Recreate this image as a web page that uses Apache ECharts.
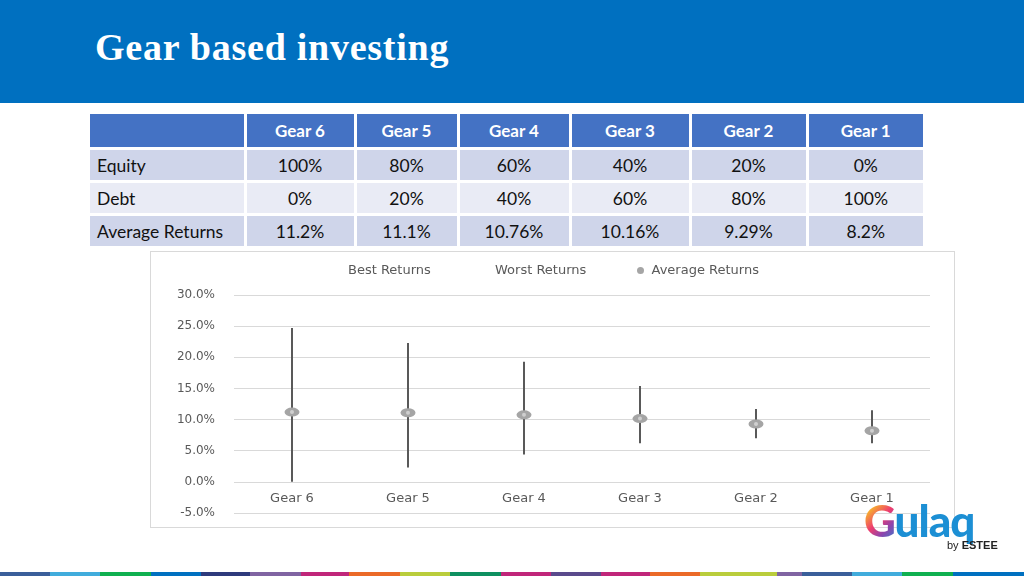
<!DOCTYPE html>
<html>
<head>
<meta charset="utf-8">
<script src="https://cdn.jsdelivr.net/npm/echarts@6/dist/echarts.min.js"></script>
<style>
  html, body { margin:0; padding:0; width:1024px; height:576px; overflow:hidden; background:#fff; position:relative; font-family: Lato, "Noto Sans", sans-serif; }
  #header { position:absolute; left:0; top:0; width:1024px; height:103px; background:#0070C0; }
  #title { position:absolute; left:95px; top:28px; line-height:38px; color:#fff; font-family:"Liberation Serif", "DejaVu Serif", serif; font-weight:bold; font-size:38px; letter-spacing:0.75px; white-space:nowrap; }
  #tbl { position:absolute; left:90px; top:114px; border-collapse:collapse; table-layout:fixed; width:833px; font-family:Lato, "Noto Sans", sans-serif; font-size:17.5px; color:#111; }
  #tbl td { padding:0; height:30px; border:3px solid #fff; text-align:center; overflow:hidden; white-space:nowrap; }
  #tbl tr.hdr td { background:#4472C4; color:#fff; font-weight:bold; height:33px; border-top:none; font-size:17px; }
  #tbl tr.odd td { background:#CFD5EA; }
  #tbl tr.even td { background:#E9EBF5; }
  #tbl td.lbl { text-align:left; padding-left:7px; }
  #tbl td:first-child { border-left:none; }
  #tbl td:last-child { border-right:none; }
  #chartbox { position:absolute; left:150px; top:251px; width:803px; height:275px; border:1px solid #d9d9d9; background:#fff; }
  #chart { width:803px; height:275px; }
  #logo { position:absolute; left:864px; top:498px; width:140px; height:60px; }
  #logo .g { font-family: Lato, Roboto, sans-serif; font-weight:900; font-size:44px; line-height:44px; color:#1C8FD4; letter-spacing:-1px; }
  #logo .G { background: linear-gradient(135deg, #8BC53F 0%, #F7B32B 25%, #EE3D6F 50%, #8E44AD 70%, #1C8FD4 100%); -webkit-background-clip:text; background-clip:text; color:transparent; }
  #logo .by { position:absolute; left:83px; top:41px; font-family: "Liberation Sans", sans-serif; font-size:11px; color:#222; white-space:nowrap; }
  #stripe { position:absolute; left:0; top:572px; width:1024px; height:4px; display:flex; }
  #stripe div { height:4px; }
</style>
</head>
<body>
<div id="header"><div id="title">Gear based investing</div></div>
<table id="tbl"><colgroup id="cols"></colgroup><tbody id="tbody"></tbody></table>
<div id="chartbox"><div id="chart"></div></div>
<div id="logo"><span class="g"><span class="G">G</span>ulaq</span><div class="by">by <b>ESTEE</b></div></div>
<div id="stripe"></div>
<script>
// ---- data ----
const categories = ['Gear 6', 'Gear 5', 'Gear 4', 'Gear 3', 'Gear 2', 'Gear 1'];
const equityAlloc = ['100%', '80%', '60%', '40%', '20%', '0%'];
const debtAlloc = ['0%', '20%', '40%', '60%', '80%', '100%'];
const avgReturnsText = ['11.2%', '11.1%', '10.76%', '10.16%', '9.29%', '8.2%'];
const bestReturns = [24.7, 22.3, 19.3, 15.4, 11.7, 11.5];
const worstReturns = [0.0, 2.3, 4.4, 6.2, 7.0, 6.2];
const averageReturns = [11.2, 11.1, 10.76, 10.16, 9.29, 8.2];
const rowLabels = ['Equity', 'Debt', 'Average Returns'];
const yTicks = [-5, 0, 5, 10, 15, 20, 25, 30];
const stripeColors = ['#3A5F9A','#41ACDC','#10B050','#0070C0','#2E3A7C','#8064A2','#C0267A','#EB6A28','#BACD3C','#0E9060','#C0267A','#5A4A8C','#C0267A','#EB6A28','#BACD3C','#8064A2','#3A5F9A','#41ACDC','#10B050','#0070C0'];
const stripeWidths = [50,50,51,50,49,51,48,51,50,51,50,50,49,50,77,25,50,50,51,71];

// ---- table ----
const colWidths = [155, 110, 103, 112, 120, 117, 116];
const tbody = document.getElementById('tbody');
const cols = document.getElementById('cols');
colWidths.forEach(w => { const c = document.createElement('col'); c.style.width = w + 'px'; cols.appendChild(c); });
function addRow(label, cells, cls) {
  const tr = document.createElement('tr');
  tr.className = cls;
  const td0 = document.createElement('td');
  td0.textContent = label; td0.className = 'lbl';
  tr.appendChild(td0);
  cells.forEach((c) => { const td = document.createElement('td'); td.textContent = c; tr.appendChild(td); });
  tbody.appendChild(tr);
}
addRow('', categories, 'hdr');
addRow(rowLabels[0], equityAlloc, 'odd');
addRow(rowLabels[1], debtAlloc, 'even');
addRow(rowLabels[2], avgReturnsText, 'odd');

// ---- stripe ----
const stripe = document.getElementById('stripe');
stripeColors.forEach((c, i) => { const d = document.createElement('div'); d.style.background = c; d.style.width = stripeWidths[i] + 'px'; stripe.appendChild(d); });

// ---- chart ----
const chart = echarts.init(document.getElementById('chart'), null, { renderer: 'canvas' });
const txt = '#595959';
const legendText = { color: txt, fontSize: 13, fontFamily: 'DejaVu Sans' };
chart.setOption({
  animation: false,
  grid: { left: 83, right: 24, top: 43, bottom: 14, containLabel: false, outerBoundsMode: 'none' },
  legend: [
    { data: [{ name: 'Best Returns', icon: 'none' }], left: 183, top: 7, itemWidth: 4, itemGap: 0, textStyle: legendText, selectedMode: false },
    { data: [{ name: 'Worst Returns', icon: 'none' }], left: 330, top: 7, itemWidth: 4, itemGap: 0, textStyle: legendText, selectedMode: false },
    { data: [{ name: 'Average Returns', icon: 'circle' }], left: 481, top: 7, itemWidth: 12, itemHeight: 7, textStyle: legendText, selectedMode: false }
  ],
  xAxis: {
    type: 'category', data: categories,
    axisLine: { show: false, onZero: false },
    axisTick: { show: false },
    axisLabel: { color: txt, fontSize: 13, fontFamily: 'DejaVu Sans', margin: -21 },
    splitLine: { show: false }
  },
  yAxis: {
    type: 'value', min: yTicks[0], max: yTicks[yTicks.length - 1], interval: yTicks[1] - yTicks[0],
    axisLine: { show: false }, axisTick: { show: false },
    axisLabel: { color: txt, fontSize: 12, fontFamily: 'DejaVu Sans', margin: 19, formatter: v => v.toFixed(1) + '%' },
    splitLine: { lineStyle: { color: '#d9d9d9', width: 1 } }
  },
  series: [
    { name: 'Best Returns', type: 'line', data: bestReturns, symbol: 'none', lineStyle: { opacity: 0 }, itemStyle: { color: txt }, silent: true },
    { name: 'Worst Returns', type: 'line', data: worstReturns, symbol: 'none', lineStyle: { opacity: 0 }, itemStyle: { color: txt }, silent: true },
    {
      name: 'HighLow', type: 'custom',
      data: categories.map((c, i) => [i, bestReturns[i], worstReturns[i]]),
      renderItem: function (params, api) {
        const x = api.value(0);
        const p1 = api.coord([x, api.value(1)]);
        const p2 = api.coord([x, api.value(2)]);
        return { type: 'line', shape: { x1: p1[0], y1: p1[1], x2: p2[0], y2: p2[1] }, style: { stroke: '#595959', lineWidth: 2 } };
      },
      z: 2, silent: true
    },
    { name: 'Average Returns', type: 'scatter', data: averageReturns, symbol: 'circle', symbolSize: [15, 9], itemStyle: { color: '#A5A5A5', opacity: 1 }, z: 3, silent: true },
    { name: 'AvgDot', type: 'scatter', data: averageReturns, symbol: 'circle', symbolSize: 4, itemStyle: { color: '#DADADA' }, z: 4, silent: true }
  ]
});
</script>
</body>
</html>
